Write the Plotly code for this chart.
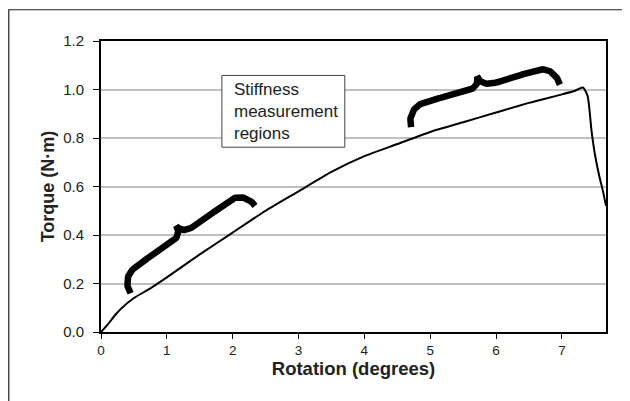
import numpy as np
import plotly.graph_objects as go

# ---- data ----
rotation = [0.0, 0.1, 0.2, 0.3, 0.5, 0.75, 1.0, 1.5, 2.0, 2.5, 3.0, 3.5, 4.0, 4.5,
            5.0, 5.5, 6.0, 6.5, 7.0, 7.2, 7.32, 7.39, 7.45, 7.5, 7.57, 7.62, 7.67]
torque = [0.0, 0.03, 0.065, 0.095, 0.14, 0.18, 0.225, 0.32, 0.41, 0.50, 0.58, 0.66,
          0.725, 0.775, 0.825, 0.865, 0.905, 0.945, 0.98, 0.995, 1.008, 0.974,
          0.83, 0.735, 0.64, 0.585, 0.52]

x_ticks = [0, 1, 2, 3, 4, 5, 6, 7]
y_ticks = [0.0, 0.2, 0.4, 0.6, 0.8, 1.0, 1.2]
y_tick_labels = ["0.0", "0.2", "0.4", "0.6", "0.8", "1.0", "1.2"]

# stiffness measurement region braces (data coords)
brace_start_x = [0.45, 4.71]
brace_start_y = [0.16, 0.845]
brace_end_x = [2.34, 6.97]
brace_end_y = [0.52, 1.02]

box_text = "Stiffness<br>measurement<br>regions"
box_x = [1.836, 3.703]
box_y = [0.762, 1.058]

# ---- layout geometry (page has an 8px body offset) ----
W, H = 630, 401
ML, MT = 93, 32.5
PW, PH = 505.5, 291.5
MR = W - ML - PW
MB = H - MT - PH
XMAX, YMAX = 7.67, 1.2


def to_px(x, y):
    return ML + x / XMAX * PW, MT + PH - y / YMAX * PH


def to_data(px, py):
    return (px - ML) / PW * XMAX, (MT + PH - py) / PH * YMAX


def cubic(p0, p1, p2, p3, n=25):
    t = np.linspace(0, 1, n)[:, None]
    p0, p1, p2, p3 = map(np.array, (p0, p1, p2, p3))
    return ((1 - t) ** 3 * p0 + 3 * (1 - t) ** 2 * t * p1
            + 3 * (1 - t) * t ** 2 * p2 + t ** 3 * p3)


def brace(sx, sy, ex, ey, w=30.0):
    p0 = np.array(to_px(sx, sy))
    p1 = np.array(to_px(ex, ey))
    d = p1 - p0
    L = np.hypot(*d)
    u = d / L
    nrm = np.array([u[1], -u[0]])  # up-left in screen space
    b = 0.64 * w
    h = L / 2

    def half(a, c):
        return np.vstack([
            cubic((0, 0), (0, 0.55 * b), (0.45 * a, b), (a, b)),
            cubic((a, b), (a + 0.3 * (h - c - a), b + 0.05 * w),
                  (a + 0.7 * (h - c - a), b - 0.05 * w), (h - c, b)),
            cubic((h - c, b), (h - 0.4 * c, b), (h, b + 0.4 * (w - b)), (h, w)),
        ])

    left = half(0.12 * L, 0.072 * L)
    right = half(0.10 * L, 0.09 * L)[::-1].copy()
    right[:, 0] = L - right[:, 0]
    loc = np.vstack([left, right])
    pts = p0 + loc[:, :1] * u + loc[:, 1:] * nrm
    xs, ys = zip(*[to_data(px, py) for px, py in pts])
    return list(xs), list(ys)


fig = go.Figure()

for i, w in enumerate([29, 31]):
    bx, by = brace(brace_start_x[i], brace_start_y[i], brace_end_x[i], brace_end_y[i], w=w)
    fig.add_trace(go.Scatter(x=bx, y=by, mode="lines",
                             line=dict(color="black", width=6.5),
                             hoverinfo="skip", showlegend=False))

fig.add_trace(go.Scatter(x=rotation, y=torque, mode="lines",
                         line=dict(color="black", width=2, shape="spline", smoothing=0.6),
                         showlegend=False))

fig.update_layout(
    width=W, height=H,
    margin=dict(l=ML, r=MR, t=MT, b=MB, pad=0, autoexpand=False),
    paper_bgcolor="white", plot_bgcolor="white",
    font=dict(family="Liberation Sans, Arial, sans-serif", color="#222"),
    showlegend=False,
)

fig.update_xaxes(
    range=[0, XMAX], tickvals=x_ticks, showgrid=False, zeroline=False, automargin=False,
    showline=True, linecolor="black", linewidth=2, mirror=True,
    ticks="outside", ticklen=5, tickwidth=1, tickcolor="black",
    tickfont=dict(size=13.5, color="#222"), ticklabelstandoff=0,
    title=dict(text="<b>Rotation (degrees)</b>", font=dict(size=18.5, color="#222"), standoff=4),
)
fig.update_yaxes(
    range=[0, YMAX], tickvals=y_ticks, ticktext=y_tick_labels, automargin=False,
    showgrid=True, gridcolor="#c0c0c0", gridwidth=1.5, zeroline=False,
    showline=True, linecolor="black", linewidth=2, mirror=True,
    ticks="outside", ticklen=6, tickwidth=1, tickcolor="black",
    tickfont=dict(size=15, color="#222"), ticklabelstandoff=6,
    title=dict(text="<b>Torque (N·m)</b>", font=dict(size=18, color="#222"), standoff=4),
)

# text box
fig.add_shape(type="rect", xref="x", yref="y",
              x0=box_x[0], x1=box_x[1], y0=box_y[0], y1=box_y[1],
              line=dict(color="#444", width=1), fillcolor="white", layer="above")
fig.add_annotation(
    x=box_x[0] + 0.147, y=(box_y[0] + box_y[1]) / 2, xref="x", yref="y",
    xanchor="left", yanchor="middle",
    text=box_text, showarrow=False, align="left",
    font=dict(size=17, color="#222"),
)

# outer frame of the figure (extends past right/bottom edges)
fig.add_shape(type="rect", xref="paper", yref="paper",
              x0=(0.7 - ML) / PW, x1=1.2, y0=-0.4, y1=(MT + PH - 1.2) / PH,
              line=dict(color="#222", width=1.2), fillcolor="rgba(0,0,0,0)", layer="below")

fig.write_html("out.html")
